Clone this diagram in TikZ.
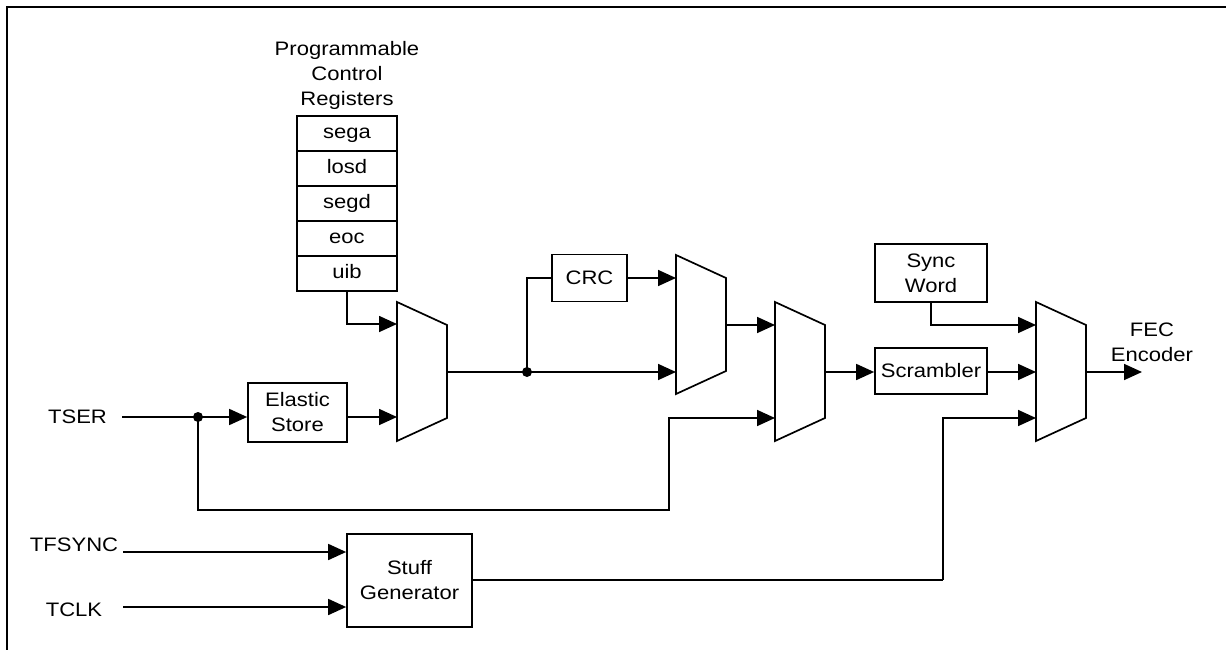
\documentclass[tikz,border=0pt]{standalone}
\usepackage{fontspec}
\setmainfont[FakeStretch=1.13]{Liberation Sans}
\usetikzlibrary{arrows.meta}
\newcommand\diafont{\fontsize{19.5}{25}\selectfont}
\begin{document}
\begin{tikzpicture}[x=1pt,y=-1pt,
  box/.style={draw, line width=1.7pt, inner sep=0pt, align=center, font=\diafont},
  reg/.style={box, minimum width=100pt, minimum height=35pt, text height=13.8pt, text depth=4pt},
  lbl/.style={inner sep=0pt, align=center, font=\diafont},
  ln/.style={line width=1.7pt},
  arr/.style={ln, -{Triangle[length=18pt,width=16pt]}},
  dotc/.style={fill, circle, inner sep=0pt, minimum size=10pt},
  mux/.pic={\draw[line width=1.7pt, line join=miter] (0,0) -- (50,23) -- (50,116) -- (0,139) -- cycle;}
]
\useasboundingbox (0,0) rectangle (1226,650);
% frame
\draw[line width=2.5pt] (7,650) -- (7,7) -- (1226,7);

% registers
\node[lbl] (title) at (347,75) {Programmable\\Control\\Registers};
\node[reg] (r1) at (347,133.5) {sega};
\node[reg] (r2) at (347,168.5) {losd};
\node[reg] (r3) at (347,203.5) {segd};
\node[reg] (r4) at (347,238.5) {eoc};
\node[reg] (r5) at (347,273.5) {uib};

% boxes
\node[box, minimum width=99pt, minimum height=59pt] (es) at (297.5,412.5) {Elastic\\Store};
\node[box, minimum width=75pt, minimum height=47pt] (crc) at (589.5,278) {CRC};
\node[box, minimum width=112pt, minimum height=46pt] (scr) at (931,371) {Scrambler};
\node[box, minimum width=112pt, minimum height=58pt] (sync) at (931,273) {Sync\\Word};
\node[box, minimum width=125pt, minimum height=93pt] (stuff) at (409.5,580.5) {Stuff\\Generator};

% muxes
\pic at (397,302) {mux};
\pic at (676,255) {mux};
\pic at (775,302) {mux};
\pic at (1036,302) {mux};
\coordinate (m1a) at (397,324);
\coordinate (m1b) at (397,417);
\coordinate (m1o) at (447,372);
\coordinate (m2a) at (676,278);
\coordinate (m2b) at (676,372);
\coordinate (m2o) at (726,325);
\coordinate (m3a) at (775,325);
\coordinate (m3b) at (775,418);
\coordinate (m3o) at (826,372);
\coordinate (m4a) at (1036,325);
\coordinate (m4b) at (1036,372);
\coordinate (m4c) at (1036,418);
\coordinate (m4o) at (1087,372);

% labels
\node[lbl] (tser) at (77.5,417) {TSER};
\node[lbl] (tfsync) at (74,545) {TFSYNC};
\node[lbl] (tclk) at (74,610) {TCLK};
\node[lbl] (fec) at (1152,342) {FEC\\Encoder};

\coordinate (tsers) at (122,417);
\coordinate (tfs) at (123,552);
\coordinate (tcs) at (123,607);
\coordinate (fecend) at (1142,372);
\node[dotc] (d1) at (198,417) {};
\node[dotc] (d2) at (527,372) {};
\coordinate (loopa) at (198,510);
\coordinate (loopb) at (669,510);
\coordinate (stc) at (943,580);

% connectors
\draw[arr] (r5.south) |- (m1a);
\draw[arr] (tsers) -- (es.west |- tsers);
\draw[arr] (es.east |- m1b) -- (m1b);
\draw[arr] (d1.center) -- (loopa) -- (loopb) |- (m3b);
\draw[ln] (m1o) -- (d2.center);
\draw[arr] (d2.center) -- (m2b);
\draw[ln] (d2.center) |- (crc.west);
\draw[arr] (crc.east |- m2a) -- (m2a);
\draw[arr] (m2o) -- (m3a);
\draw[arr] (m3o) -- (scr.west |- m3o);
\draw[arr] (scr.east |- m4b) -- (m4b);
\draw[arr] (sync.south) |- (m4a);
\draw[arr] (m4o) -- (fecend);
\draw[arr] (tfs) -- (stuff.west |- tfs);
\draw[arr] (tcs) -- (stuff.west |- tcs);
\draw[ln] (stuff.east |- stc) -- (stc);
\draw[arr] (stc) |- (m4c);
\end{tikzpicture}
\end{document}
